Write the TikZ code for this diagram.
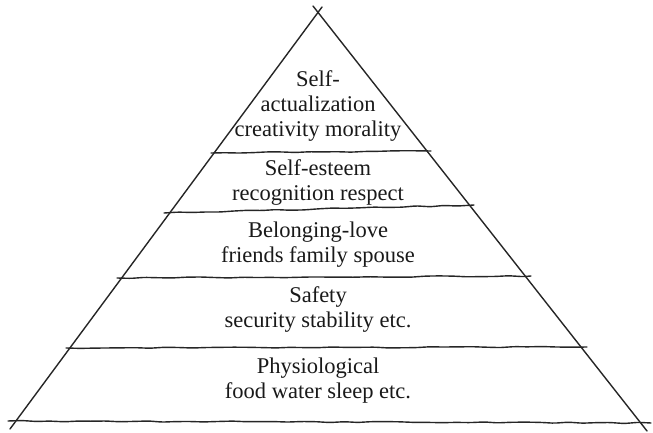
\documentclass[tikz,border=0pt]{standalone}
\usepackage{fontspec}
\setmainfont{Liberation Serif}
\usepackage{tikz}
\usetikzlibrary{decorations.pathmorphing}

\begin{document}
\begin{tikzpicture}[
    x=1pt, y=-1pt,
    edge/.style={draw=black!85, line width=1.4pt, line cap=round},
    shelf/.style={edge, decorate, decoration={random steps, segment length=14pt, amplitude=0.6pt}, rounded corners=2pt},
    level/.style={align=center, inner sep=0pt, text=black!90, font=\fontsize{22.5}{25}\selectfont}
]
\pgfmathsetseed{7}
\useasboundingbox (0,0) rectangle (653,433);

% sides of the pyramid
\draw[edge] (10,429) -- (322,7);
\draw[edge] (313,6) -- (647,431);

% dividing lines, top to bottom
\draw[shelf] (211,153) -- (431,151);
\draw[shelf] (164,213) -- (474,205);
\draw[shelf] (117,278) -- (531,276);
\draw[shelf] (66,348) -- (587,347);
\draw[shelf] (8,421) -- (651,423);

% levels
\node[level] (selfact) at (318,106.3) {Self-\\actualization\\creativity morality};
\node[level] (esteem) at (318,182.2) {Self-esteem\\recognition respect};
\node[level] (belong) at (318,244.2) {Belonging-love\\friends family spouse};
\node[level] (safety) at (318,309.2) {Safety\\security stability etc.};
\node[level] (physio) at (318,380.2) {Physiological\\food water sleep etc.};

\end{tikzpicture}
\end{document}
